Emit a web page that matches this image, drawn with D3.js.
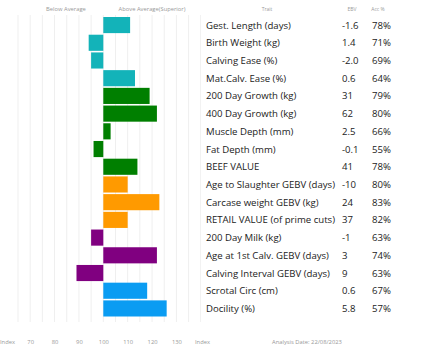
<!DOCTYPE html>
<html>
<head>
<meta charset="utf-8">
<script src="https://cdn.jsdelivr.net/npm/d3@7"></script>
<style>
  body { margin: 0; background: #fff; }
  text { font-family: "Open Sans", sans-serif; }
</style>
</head>
<body>
<div id="chart"></div>
<script>
var width = 435,
    height = 352;

// trait table
var traits = ["Gest. Length (days)", "Birth Weight (kg)", "Calving Ease (%)", "Mat.Calv. Ease (%)",
    "200 Day Growth (kg)", "400 Day Growth (kg)", "Muscle Depth (mm)", "Fat Depth (mm)",
    "BEEF VALUE", "Age to Slaughter GEBV (days)", "Carcase weight GEBV (kg)",
    "RETAIL VALUE (of prime cuts)", "200 Day Milk (kg)", "Age at 1st Calv. GEBV (days)",
    "Calving Interval GEBV (days)", "Scrotal Circ (cm)", "Docility (%)"];
var ebv = ["-1.6", "1.4", "-2.0", "0.6", "31", "62", "2.5", "-0.1", "41", "-10", "24", "37",
    "-1", "3", "9", "0.6", "5.8"];
var acc = ["78%", "71%", "69%", "64%", "79%", "80%", "66%", "55%", "78%", "80%", "83%", "82%",
    "63%", "74%", "63%", "67%", "57%"];
var index = [111, 94, 95, 113, 119, 122, 103, 96, 114, 110, 123, 110, 95, 122, 89, 118, 126];
var groups = ["calving", "calving", "calving", "calving", "growth", "growth", "growth", "growth",
    "growth", "carcase", "carcase", "carcase", "maternal", "maternal", "maternal", "fertility", "fertility"];
var groupNames = ["calving", "growth", "carcase", "maternal", "fertility"];
var groupColors = ["#13b3b9", "#007f00", "#ff9a00", "#800080", "#0a9cf2"];
var tickValues = [70, 80, 90, 100, 110, 120, 130];

var svg = d3.select("#chart").append("svg")
    .attr("width", width)
    .attr("height", height);

var x = d3.scaleLinear().domain([65, 135]).range([18, 188.6]);
var y = d3.scaleBand().domain(traits).range([17, 316.5]).paddingInner(0.09);
var color = d3.scaleOrdinal().domain(groupNames).range(groupColors);

// grid
svg.append("g").selectAll("line")
    .data(d3.range(65, 136, 5))
    .join("line")
    .attr("x1", d => x(d)).attr("x2", d => x(d))
    .attr("y1", 15).attr("y2", 322)
    .attr("stroke", "#efefef")
    .attr("stroke-width", 1);

svg.append("line")
    .attr("x1", 200.5).attr("x2", 200.5)
    .attr("y1", 15).attr("y2", 322)
    .attr("stroke", "#f2f2f2");

// bars
svg.append("g").selectAll("rect")
    .data(traits)
    .join("rect")
    .attr("x", (d, i) => x(Math.min(100, index[i])))
    .attr("width", (d, i) => Math.abs(x(index[i]) - x(100)))
    .attr("y", d => y(d))
    .attr("height", y.bandwidth())
    .attr("fill", (d, i) => color(groups[i]));

// header
var hdr = svg.append("g").attr("fill", "#999").attr("font-size", 5.8);
hdr.append("text").attr("x", 66).attr("y", 11).attr("text-anchor", "middle").text("Below Average");
hdr.append("text").attr("x", 152).attr("y", 11).attr("text-anchor", "middle").text("Above Average(Superior)");
hdr.append("text").attr("x", 267).attr("y", 11).attr("text-anchor", "middle").attr("font-size", 5).text("Trait");
hdr.append("text").attr("x", 352).attr("y", 11).attr("text-anchor", "middle").attr("font-size", 5).text("EBV");
hdr.append("text").attr("x", 378).attr("y", 11).attr("text-anchor", "middle").attr("font-size", 5).text("Acc %");

// table
var rows = svg.append("g").attr("fill", "#222").attr("font-size", 9.6);
rows.selectAll(".trait")
    .data(traits)
    .join("text")
    .attr("class", "trait")
    .attr("x", 206)
    .attr("y", d => y(d) + y.bandwidth() / 2 + 3.5)
    .text(d => d);
rows.selectAll(".ebv")
    .data(traits)
    .join("text")
    .attr("class", "ebv")
    .attr("x", 342)
    .attr("y", d => y(d) + y.bandwidth() / 2 + 3.5)
    .text((d, i) => ebv[i]);
rows.selectAll(".acc")
    .data(traits)
    .join("text")
    .attr("class", "acc")
    .attr("x", 372)
    .attr("y", d => y(d) + y.bandwidth() / 2 + 3.5)
    .text((d, i) => acc[i]);

// bottom axis
var axis = svg.append("g")
    .attr("transform", "translate(0,344)")
    .call(d3.axisBottom(x).tickValues(tickValues).tickSize(0).tickPadding(0));
axis.select(".domain").remove();
axis.selectAll("text").attr("fill", "#999").attr("font-size", 5.8).attr("dy", 0);

var foot = svg.append("g").attr("fill", "#999").attr("font-size", 5.8);
foot.append("text").attr("x", 0).attr("y", 344).text("Index");
foot.append("text").attr("x", 195).attr("y", 344).text("Index");
foot.append("text").attr("x", 272).attr("y", 344).text("Analysis Date: 22/08/2023");
</script>
</body>
</html>
